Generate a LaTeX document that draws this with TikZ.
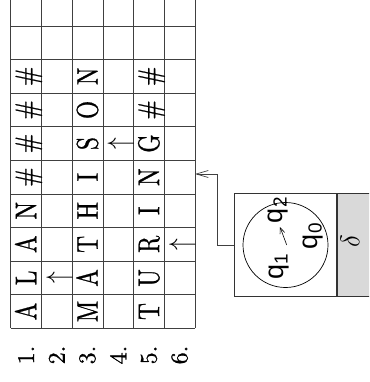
\documentclass[tikz,border=0pt]{standalone}
\usepackage{fix-cm}
\usepackage{fontspec}
\usetikzlibrary{arrows.meta}
\newfontfamily\qfont{Liberation Sans}
\newfontfamily\tapefont{lmroman10-regular}[Extension=.otf, FakeBold=0.9]
\begin{document}
\begin{tikzpicture}[x=1pt,y=-1pt,
  gridline/.style={draw=black!75, line width=0.7pt},
  cell/.style={rotate=90, inner sep=0pt, font=\tapefont\fontsize{30}{30}\selectfont,
               text height=20.5pt, text depth=0pt},
  numlab/.style={rotate=90, inner sep=0pt, font=\tapefont\fontsize{24}{24}\selectfont},
  qlab/.style={rotate=90, inner sep=0pt, font=\qfont\fontsize{27}{27}\selectfont},
  box/.style={draw=black!80, line width=0.8pt, inner sep=0pt, anchor=north west},
  conn/.style={draw=black!75, line width=0.7pt},
]
\useasboundingbox (0,0) rectangle (369,382);
\clip (0,0) rectangle (369,382);

% tape grid
\foreach \i in {0,...,6}
  \draw[gridline] ({10.7+\i*30.72},-5) -- ({10.7+\i*30.72},328.3);
\foreach \k in {0,...,9}
  \draw[gridline] (10.7,{328.3-\k*33.59}) -- (195,{328.3-\k*33.59});

% row 1
\foreach \c [count=\k] in {A,L,A,N,\#,\#,\#,\#}
  \node[cell] (ra-\k) at (26.06,{328.3-(\k-0.5)*33.59}) {\scalebox{0.78}[1]{\c}};
% row 3
\foreach \c [count=\k] in {M,A,T,H,I,S,O,N}
  \node[cell] (rc-\k) at (87.5,{328.3-(\k-0.5)*33.59}) {\scalebox{0.78}[1]{\c}};
% row 5
\foreach \c [count=\k] in {T,U,R,I,N,G,\#,\#}
  \node[cell] (re-\k) at (148.9,{328.3-(\k-0.5)*33.59}) {\scalebox{0.78}[1]{\c}};
% head markers
\node[cell] (rb) at (56.78,{328.3-1.5*33.59}) {\scalebox{0.78}[1]{$\uparrow$}};
\node[cell] (rd) at (118.2,{328.3-5.5*33.59}) {\scalebox{0.78}[1]{$\uparrow$}};
\node[cell] (rf) at (179.6,{328.3-2.5*33.59}) {\scalebox{0.78}[1]{$\uparrow$}};

% row numbers
\foreach \n [count=\i] in {1,2,3,4,5,6}
  \node[numlab] (n\i) at ({10.7+(\i-0.5)*30.72},355) {\n.};

% head / control unit
\node[box, minimum width=101.7pt, minimum height=102.7pt] (head) at (234.3,193.3) {};
\node[box, fill=black!15, minimum width=45pt, minimum height=102.7pt] (delta) at (head.north east) {};
\node[rotate=90, inner sep=0pt, font=\fontsize{27}{27}\selectfont] (dl) at (350,241.5) {$\delta$};
\node[draw=black, line width=0.7pt, circle, minimum size=85pt, inner sep=0pt] (ring) at (285.5,245) {};
\node[qlab] (q2) at (278,210) {q\textsubscript{2}};
\node[qlab] (q0) at (313,236) {q\textsubscript{0}};
\node[qlab] (q1) at (279,266) {q\textsubscript{1}};
\coordinate (a1) at (286.7,245);
\coordinate (a2) at (280,227);
\draw[line width=0.6pt, -{Straight Barb[length=6pt,width=5pt]}] (a1) -- (a2);

% connector head -> tape
\coordinate (tapein) at (195,174);
\draw[conn, -{Straight Barb[length=12pt,width=7pt]}] (head.west) -- ++(-17,0) |- (tapein);
\end{tikzpicture}
\end{document}
